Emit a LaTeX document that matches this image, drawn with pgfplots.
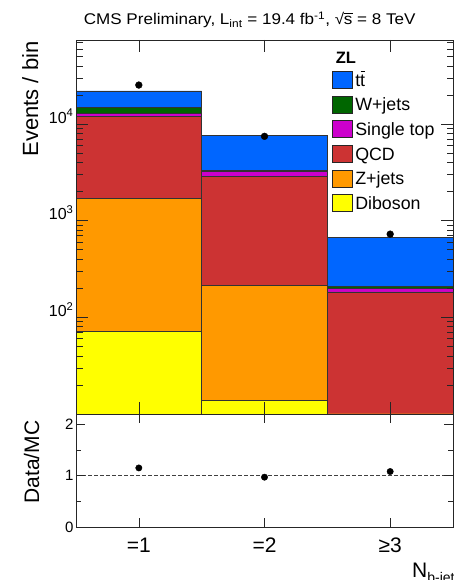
\documentclass[border=0pt]{standalone}
\usepackage{pgfplots}
\pgfplotsset{compat=1.18}
\usepackage{pgfplotstable}
\usepackage{fontspec}
\setmainfont{Liberation Sans}

\definecolor{ttcol}{RGB}{0,102,255}
\definecolor{wjcol}{RGB}{0,102,0}
\definecolor{stcol}{RGB}{204,0,204}
\definecolor{qcdcol}{RGB}{204,51,51}
\definecolor{zjcol}{RGB}{255,153,0}
\definecolor{dibcol}{RGB}{255,255,0}

% Yields per b-jet multiplicity bin (0: =1, 1: =2, 2: >=3)
\pgfplotstableread{
bin dib  zj   qcd   st  wj   tt   data  derr ratio
0   71.7 1618 10410 800 2000 7100 25300 160  1.15
1   13.9 200  2676  330 110  4360 7460  86   0.97
2   1    4    178   18  7    462  726   27   1.08
}\yields

\newcommand{\rootS}{√\kern-0.2pt\rlap{\rule[0.74em]{0.52em}{0.05em}}s}
\newcommand{\ttbar}{t\rlap{\kern0.02em\rule[0.78em]{0.26em}{0.06em}}t}

\pgfplotsset{
  stackbar/.style={ybar, bar width=1, bar shift=0pt, fill=#1, draw=black!80,
    line width=0.5pt,
    legend image code/.code={\draw[fill=#1, draw=black!85, line width=0.6pt]
      (0pt,-8.5pt) rectangle (19.5pt,8.5pt);}},
}

\begin{document}
\begin{tikzpicture}

\begin{axis}[
  at={(76pt,166pt)}, anchor=south west,
  width=377pt, height=374pt, scale only axis,
  ymode=log, ymin=10, ymax=74000, log origin y=infty,
  xmin=-0.5, xmax=2.5,
  xtick={0,1,2}, xticklabels={,,},
  ytick={100,1000,10000},
  yticklabels={10\textsuperscript{2},10\textsuperscript{3},10\textsuperscript{4}},
  minor ytick={20,30,40,50,60,70,80,90,200,300,400,500,600,700,800,900,
    2000,3000,4000,5000,6000,7000,8000,9000,20000,30000,40000,50000,60000,70000},
  tick align=inside, major tick length=12pt, minor tick length=6.5pt,
  axis line style={black!85, line width=0.6pt},
  tick style={black!85, line width=0.6pt},
  axis on top,
  yticklabel style={font=\fontsize{16}{16}\selectfont, anchor=base east, yshift=1pt, xshift=1pt},
  legend style={draw=none, fill=none, at={(axis description cs:0.679,0.917)},
    anchor=north west, row sep=7pt, column sep=0pt, inner sep=0pt,
    font=\fontsize{17.8}{17.8}\selectfont,
    nodes={anchor=west, text height=12.5pt, text depth=0pt, inner xsep=3pt, inner ysep=0pt}},
  legend cell align=left,
]
\addplot[stackbar=ttcol] table[x=bin, y expr=\thisrow{dib}+\thisrow{zj}+\thisrow{qcd}+\thisrow{st}+\thisrow{wj}+\thisrow{tt}] {\yields};
\addlegendentry{\ttbar}
\addplot[stackbar=wjcol] table[x=bin, y expr=\thisrow{dib}+\thisrow{zj}+\thisrow{qcd}+\thisrow{st}+\thisrow{wj}] {\yields};
\addlegendentry{W+jets}
\addplot[stackbar=stcol] table[x=bin, y expr=\thisrow{dib}+\thisrow{zj}+\thisrow{qcd}+\thisrow{st}] {\yields};
\addlegendentry{Single top}
\addplot[stackbar=qcdcol] table[x=bin, y expr=\thisrow{dib}+\thisrow{zj}+\thisrow{qcd}] {\yields};
\addlegendentry{QCD}
\addplot[stackbar=zjcol] table[x=bin, y expr=\thisrow{dib}+\thisrow{zj}] {\yields};
\addlegendentry{Z+jets}
\addplot[stackbar=dibcol] table[x=bin, y=dib] {\yields};
\addlegendentry{Diboson}
% observed data
\addplot[forget plot, only marks, mark=*, mark size=3.4pt, black,
  error bars/.cd, y dir=both, y explicit, error bar style={line width=0.8pt}, error mark=none]
  table[x=bin, y=data, y error=derr] {\yields};
\node[anchor=base west, font=\fontsize{16.5}{16.5}\selectfont\bfseries] at (axis description cs:0.68,0.937) {ZL};
\end{axis}

\begin{axis}[
  at={(76pt,53pt)}, anchor=south west,
  width=377pt, height=113pt, scale only axis,
  xmin=-0.5, xmax=2.5, ymin=0, ymax=2.2,
  xtick={0,1,2}, xticklabels={=1,=2,≥3},
  ytick={0,1,2}, minor ytick={0.5,1.5},
  tick align=inside, major tick length=9pt, minor tick length=5pt,
  axis line style={black!85, line width=0.6pt},
  tick style={black!85, line width=0.6pt},
  axis on top,
  /pgf/number format/assume math mode=true,
  xticklabel style={font=\fontsize{21}{21}\selectfont, anchor=base, yshift=-26pt},
  yticklabel style={font=\fontsize{15}{15}\selectfont, xshift=1pt},
]
\addplot[black!75, dashed, line width=0.6pt, dash pattern=on 3.5pt off 2.5pt] coordinates {(-0.5,1) (2.5,1)};
\addplot[only marks, mark=*, mark size=3.2pt, black] table[x=bin, y=ratio] {\yields};
\end{axis}

% titles and axis labels
\node[anchor=base west, xscale=1.1, font=\fontsize{15.5}{15.5}\selectfont] at (80pt,555pt)
  {CMS Preliminary, L\textsubscript{int} = 19.4 fb\textsuperscript{-1}, \rootS\ = 8 TeV};
\node[rotate=90, anchor=base east, font=\fontsize{22}{22}\selectfont] at (38pt,542pt) {Events / bin};
\node[rotate=90, anchor=base east, font=\fontsize{21}{21}\selectfont] at (39pt,163pt) {Data/MC};
\node[anchor=base west, inner sep=0pt, font=\fontsize{21}{21}\selectfont] at (412pt,2pt)
  {N\raisebox{-5pt}{\fontsize{14}{14}\selectfont b-jet}};

\pgfresetboundingbox
\path[use as bounding box] (0pt,0pt) rectangle (454pt,580pt);
\end{tikzpicture}
\end{document}
